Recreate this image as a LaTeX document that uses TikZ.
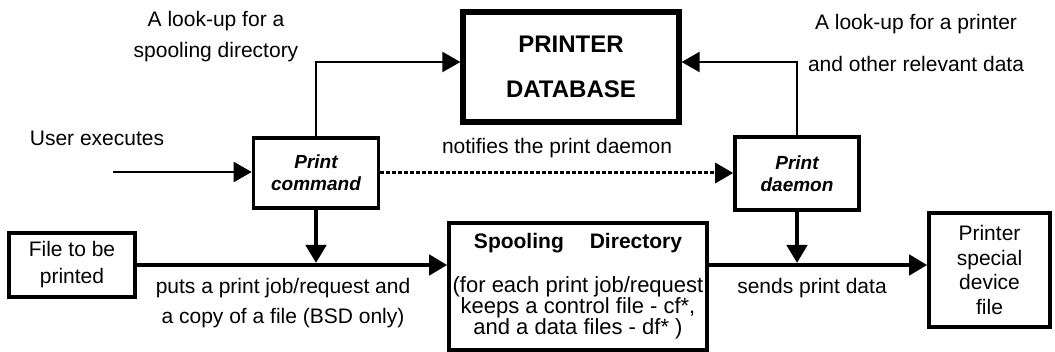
\documentclass[tikz,border=0pt]{standalone}
\usepackage{fontspec}
\setmainfont{Liberation Sans}
\usetikzlibrary{arrows.meta,positioning,calc}

\newcommand{\fsz}[2]{\fontsize{#1}{#2}\selectfont}

\begin{document}
\begin{tikzpicture}[x=0.5pt, y=-0.5pt,
    box/.style={draw, line width=1.8pt, align=center, inner sep=0pt},
    note/.style={align=center, inner sep=0pt, font=\fsz{10.5}{13}},
    tip/.style={-{Triangle[length=9pt,width=10pt]}},
    thinarrow/.style={tip, line width=1pt},
    thickarrow/.style={tip, line width=2.2pt},
    dotarrow/.style={tip, line width=1.5pt, dash pattern=on 1.6pt off 1.4pt}]
    \useasboundingbox (0,0) rectangle (1055,352);

    % Database
    \node[box, line width=2.6pt, minimum width=108pt, minimum height=55pt,
          font=\bfseries\fsz{12}{22.5}] (db) at (571,67) {PRINTER\\DATABASE};

    % Command and daemon
    \node[box, minimum width=62.5pt, minimum height=35pt,
          font=\bfseries\itshape\fsz{9.5}{11}] (cmd) at (316,173) {Print\\command};
    \node[box, minimum width=62pt, minimum height=36.5pt,
          font=\bfseries\itshape\fsz{9.5}{11}] (dmn) at (797,173.5) {Print\\daemon};

    % Bottom row
    \node[box, minimum width=63pt, minimum height=32pt,
          font=\fsz{10.5}{13.5}] (file) at (72,265) {File to be\\printed};
    \node[box, minimum width=129pt, minimum height=63.5pt,
          font=\fsz{11}{10.5}] (spool) at (578,286.5)
          {\textbf{\fsz{10.5}{10.5}Spooling\hspace{13pt}Directory}\\[11.5pt]
           (for each print job/request\\keeps a control file - cf*,\\and a data files - df* )};
    \node[box, minimum width=60.5pt, minimum height=57pt,
          font=\fsz{10.5}{12.3}] (prn) at (989.5,270) {Printer\\special\\device\\file};

    % Labels
    \node[note, font=\fsz{10.5}{15.5}] (lkspool) at (216,37) {A look-up for a\\spooling directory};
    \node[note, font=\fsz{10.5}{21}] (lkprn) at (916,43) {A look-up for a printer\\and other relevant data};
    \node[note] (user) at (97,138) {User executes};
    \node[note] (notify) at (557,148) {notifies the print daemon};
    \node[note, font=\fsz{10.5}{15}] (puts) at (283,303) {puts a print job/request and\\a copy of a file (BSD only)};
    \node[note] (sends) at (812,288) {sends print data};

    % Connectors
    \coordinate (usr) at (113,172);
    \draw[thinarrow] (usr) -- (usr -| cmd.west);
    \draw[thinarrow] (cmd.north) |- ([yshift=2.5pt]db.west);
    \draw[thinarrow] (dmn.north) |- ([yshift=2.5pt]db.east);
    \draw[dotarrow] (cmd.east) -- (cmd.east -| dmn.west);

    \draw[thickarrow] (file.east) -- (file.east -| spool.west);
    \draw[thickarrow, shorten >=1pt] (cmd.south) -- (cmd.south |- file.east);
    \draw[thickarrow] (spool.east |- file.east) -- (file.east -| prn.west);
    \draw[thickarrow, shorten >=1pt] (dmn.south) -- (dmn.south |- file.east);
\end{tikzpicture}
\end{document}
